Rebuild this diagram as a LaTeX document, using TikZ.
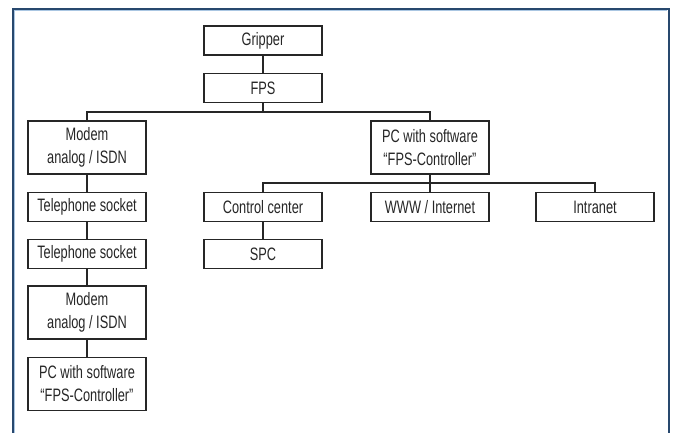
\documentclass[tikz,border=0pt]{standalone}
\usepackage{fontspec}
\setmainfont[FakeStretch=0.71]{Liberation Sans}
\usetikzlibrary{positioning}
\definecolor{framedark}{RGB}{40,72,110}
\definecolor{framelight}{RGB}{170,198,226}

\tikzset{
  unit/.style={draw=black!85, line width=1.2pt, minimum width=118pt,
    minimum height=29pt, inner sep=1pt, align=center, text=black!85,
    font=\fontsize{18}{23}\selectfont},
  tall/.style={unit, minimum height=53pt},
  wire/.style={draw=black!85, line width=1.2pt},
}

\begin{document}
\begin{tikzpicture}[x=1pt,y=-1pt]
  \useasboundingbox (0,0) rectangle (673,432);
  % frame, open at the bottom
  \draw[framedark, line width=1.6pt] (13,433) -- (13,9) -- (669,9) -- (669,433);
  \draw[framelight, line width=0.8pt] (14.6,433) -- (14.6,10.6) -- (667.4,10.6);

  \node[unit] (grip) at (263,40.5) {Gripper};
  \node[unit] (fps) at (263,88) {FPS};
  \node[tall] (modemA) at (87,147.5) {Modem\\analog / ISDN};
  \node[tall] (pcA) at (430,147.5) {PC with software\\``FPS-Controller''};
  \node[unit] (telA) at (87,207) {Telephone socket};
  \node[unit] (telB) at (87,254) {Telephone socket};
  \node[tall] (modemB) at (87,312.5) {Modem\\analog / ISDN};
  \node[tall] (pcB) at (87,384) {PC with software\\``FPS-Controller''};
  \node[unit] (ctrl) at (263,207) {Control center};
  \node[unit] (spc) at (263,254) {SPC};
  \node[unit] (www) at (430,207) {WWW / Internet};
  \node[unit] (intra) at (595,207) {Intranet};

  \coordinate (busA) at (263,112);
  \coordinate (busB) at (430,183);

  \draw[wire] (grip) -- (fps);
  \draw[wire] (fps) -- (busA);
  \draw[wire] (modemA.north) |- (busA) -| (pcA.north);
  \draw[wire] (pcA) -- (busB);
  \draw[wire] (ctrl.north) |- (busB) -| (intra.north);
  \draw[wire] (busB) -- (www);
  \draw[wire] (modemA) -- (telA);
  \draw[wire] (telA) -- (telB);
  \draw[wire] (telB) -- (modemB);
  \draw[wire] (modemB) -- (pcB);
  \draw[wire] (ctrl) -- (spc);
\end{tikzpicture}
\end{document}
